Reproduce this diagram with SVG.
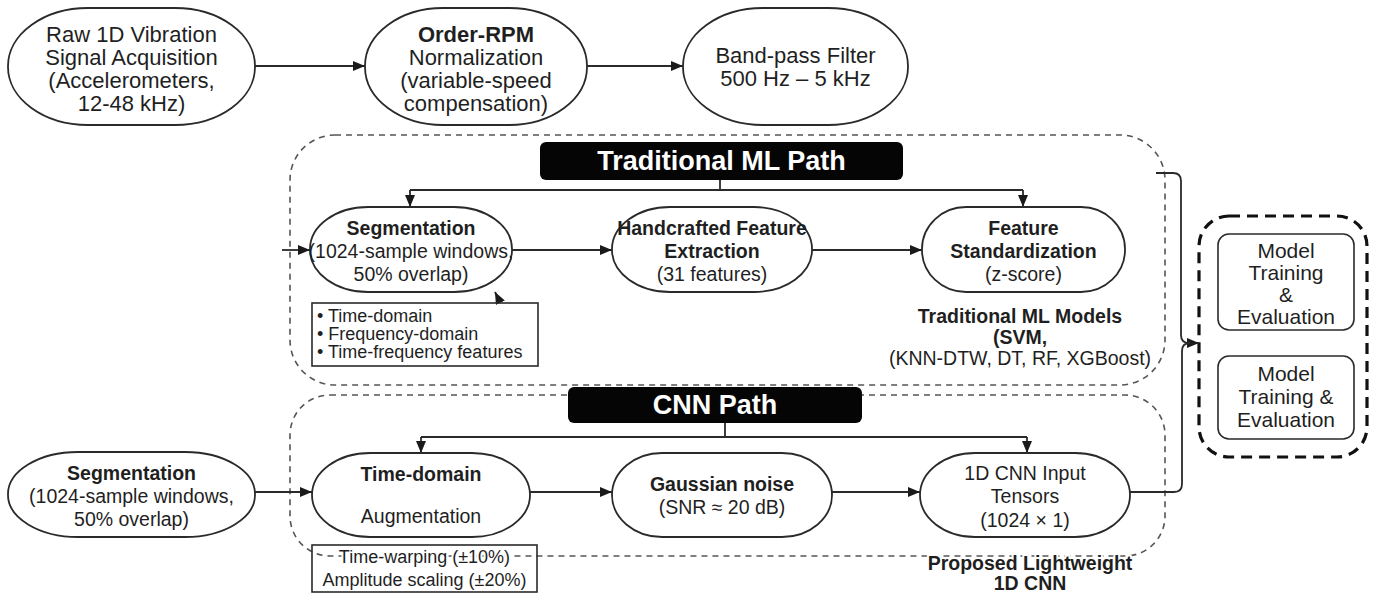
<svg xmlns="http://www.w3.org/2000/svg" width="1373" height="593" viewBox="0 0 1373 593">
<defs>
<marker id="arr" viewBox="0 0 12 10" refX="12" refY="5" markerWidth="12" markerHeight="10" markerUnits="userSpaceOnUse" orient="auto">
<path d="M0,0 L12,5 L0,10 z" fill="#1a1a1a"/>
</marker>
<style>
text{font-family:"Liberation Sans",Arial,sans-serif;fill:#1f1f1f;text-anchor:middle}
.n{fill:#fff;stroke:#2a2a2a;stroke-width:1.8}
.t22{font-size:22px}
.t21{font-size:21px}
.t20{font-size:19.5px}
.t18{font-size:18px}
.b{font-weight:bold}
.hdr{fill:#050505;stroke:none}
.ht{fill:#fff;font-size:27px;font-weight:bold}
.dash{fill:none;stroke:#555;stroke-width:1.6;stroke-dasharray:6 5}
.thick{fill:none;stroke:#111;stroke-width:3.2;stroke-dasharray:11 7}
.c{fill:none;stroke:#2a2a2a;stroke-width:1.8}
.ca{fill:none;stroke:#2a2a2a;stroke-width:1.8;marker-end:url(#arr)}
.box{fill:none;stroke:#2a2a2a;stroke-width:1.6}
.halo{paint-order:stroke;stroke:#fff;stroke-width:4px;stroke-linejoin:round}
.l{text-anchor:start}
</style>
</defs>
<rect width="1373" height="593" fill="#fff"/>

<g id="containers">
<rect class="dash" x="290" y="135" width="875" height="250" rx="45" ry="45"/>
<rect class="dash" x="290" y="395" width="875" height="161" rx="40" ry="40"/>
<rect class="thick" x="1199" y="216" width="168" height="241" rx="30" ry="30"/>
</g>

<g id="connectors">
<path class="ca" d="M255,66 H365"/>
<path class="ca" d="M587,66 H683"/>
<path class="c" d="M720,180 V190 M410,190 H1023"/>
<path class="ca" d="M410,190 V207"/>
<path class="ca" d="M1023,190 V207"/>
<path class="ca" d="M282,250 H310"/>
<path class="ca" d="M512,250 H612"/>
<path class="ca" d="M812,250 H922"/>
<path class="ca" d="M500,302 L495,292"/>
<path class="c" d="M725,423 V437 M421,437 H1027"/>
<path class="ca" d="M421,437 V453"/>
<path class="ca" d="M1027,437 V453"/>
<path class="ca" d="M255,492 H312"/>
<path class="ca" d="M530,492 H612"/>
<path class="ca" d="M832,492 H920"/>
<path class="ca" d="M1156,173 H1173 Q1181,173 1181,181 V335 Q1181,343 1189,343 H1199"/>
<path class="c" d="M1130,492 H1174 Q1182,492 1182,484 V351 Q1182,343 1190,343"/>
</g>

<g id="n-raw">
<rect class="n" x="8" y="8" width="247" height="117" rx="80" ry="58"/>
<text class="t22" x="131.5" y="42">Raw 1D Vibration</text>
<text class="t22" x="131.5" y="65">Signal Acquisition</text>
<text class="t22" x="131.5" y="88">(Accelerometers,</text>
<text class="t22" x="131.5" y="111">12-48 kHz)</text>
</g>
<g id="n-order">
<rect class="n" x="365" y="8" width="222" height="117" rx="78" ry="58"/>
<text class="t22 b" x="476" y="42">Order-RPM</text>
<text class="t22" x="476" y="65">Normalization</text>
<text class="t22" x="476" y="88">(variable-speed</text>
<text class="t22" x="476" y="111">compensation)</text>
</g>
<g id="n-bandpass">
<rect class="n" x="683" y="8" width="225" height="117" rx="80" ry="58"/>
<text class="t22" x="795.5" y="63">Band-pass Filter</text>
<text class="t22" x="795.5" y="86">500 Hz – 5 kHz</text>
</g>

<g id="h-trad">
<rect class="hdr" x="540" y="142" width="363" height="38" rx="6"/>
<text class="ht" x="721.5" y="170">Traditional ML Path</text>
</g>
<g id="n-seg-trad">
<rect class="n" x="310" y="207" width="202" height="85" rx="58" ry="42"/>
<text class="t20 b" x="411" y="235">Segmentation</text>
<text class="t20" x="411" y="258">(1024-sample windows,</text>
<text class="t20" x="411" y="281">50% overlap)</text>
</g>
<g id="n-handcrafted">
<rect class="n" x="612" y="207" width="200" height="85" rx="58" ry="42"/>
<text class="t20 b" x="712" y="235">Handcrafted Feature</text>
<text class="t20 b" x="712" y="258">Extraction</text>
<text class="t20" x="712" y="281">(31 features)</text>
</g>
<g id="n-std">
<rect class="n" x="922" y="207" width="203" height="85" rx="44" ry="42"/>
<text class="t20 b" x="1023.5" y="235">Feature</text>
<text class="t20 b" x="1023.5" y="258">Standardization</text>
<text class="t20" x="1023.5" y="281">(z-score)</text>
</g>
<g id="n-features-list">
<rect class="box" x="312" y="303" width="226" height="63"/>
<text class="t18 l" x="317" y="322">• Time-domain</text>
<text class="t18 l" x="317" y="340">• Frequency-domain</text>
<text class="t18 l" x="317" y="358">• Time-frequency features</text>
</g>
<g id="n-trad-models">
<text class="t20 b" x="1020" y="323">Traditional ML Models</text>
<text class="t20 b" x="1020" y="344">(SVM,</text>
<text class="t20" x="1020" y="365">(KNN-DTW, DT, RF, XGBoost)</text>
</g>

<g id="h-cnn">
<rect class="hdr" x="568" y="387" width="294" height="36" rx="6"/>
<text class="ht" x="715" y="414">CNN Path</text>
</g>
<g id="n-seg-cnn">
<rect class="n" x="8" y="452" width="247" height="85" rx="70" ry="42"/>
<text class="t20 b" x="131.5" y="480">Segmentation</text>
<text class="t20" x="131.5" y="503">(1024-sample windows,</text>
<text class="t20" x="131.5" y="526">50% overlap)</text>
</g>
<g id="n-aug">
<rect class="n" x="312" y="453" width="218" height="84" rx="58" ry="42"/>
<text class="t20 b" x="421" y="481">Time-domain</text>
<text class="t20" x="421" y="523">Augmentation</text>
</g>
<g id="n-gauss">
<rect class="n" x="612" y="453" width="220" height="84" rx="50" ry="42"/>
<text class="t20 b" x="722" y="491">Gaussian noise</text>
<text class="t20" x="722" y="514">(SNR ≈ 20 dB)</text>
</g>
<g id="n-tensors">
<rect class="n" x="920" y="453" width="210" height="84" rx="55" ry="42"/>
<text class="t20" x="1025" y="480">1D CNN Input</text>
<text class="t20" x="1025" y="503">Tensors</text>
<text class="t20" x="1025" y="527">(1024 × 1)</text>
</g>
<g id="n-aug-list">
<rect class="box" x="312" y="545" width="225" height="47"/>
<text class="t18 halo" x="424.5" y="563">Time-warping (±10%)</text>
<text class="t18" x="424.5" y="586">Amplitude scaling (±20%)</text>
</g>
<g id="n-cnn-label">
<text class="t20 b halo" x="1030" y="570">Proposed Lightweight</text>
<text class="t20 b" x="1030" y="590">1D CNN</text>
</g>

<g id="n-eval1">
<rect class="box" x="1218" y="234" width="136" height="96" rx="11"/>
<text class="t21" x="1286" y="258">Model</text>
<text class="t21" x="1286" y="280">Training</text>
<text class="t21" x="1286" y="302">&amp;</text>
<text class="t21" x="1286" y="324">Evaluation</text>
</g>
<g id="n-eval2">
<rect class="box" x="1218" y="356" width="136" height="83" rx="11"/>
<text class="t21" x="1286" y="381">Model</text>
<text class="t21" x="1286" y="404">Training &amp;</text>
<text class="t21" x="1286" y="427">Evaluation</text>
</g>
</svg>
